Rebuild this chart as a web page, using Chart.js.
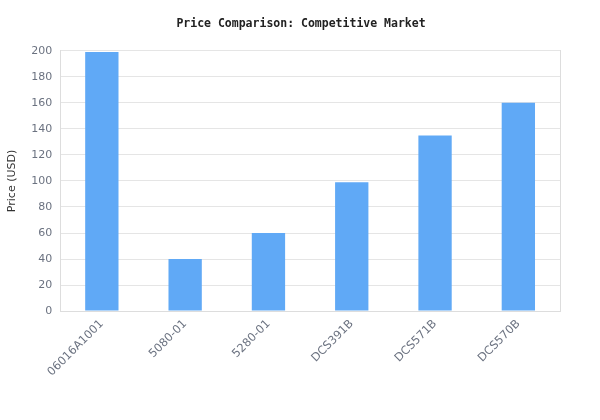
<!DOCTYPE html>
<html>
<head>
<meta charset="utf-8">
<script src="https://cdn.jsdelivr.net/npm/chart.js@4"></script>
<style>
  html, body { margin: 0; padding: 0; background: #fff; }
  #wrap { width: 600px; height: 420px; }
</style>
</head>
<body>
<div id="wrap"><canvas id="prices"></canvas></div>
<script>
var models = ['06016A1001', '5080-01', '5280-01', 'DCS391B', 'DCS571B', 'DCS570B'];
var prices = [199, 40, 60, 99, 135, 160];
var yTicks = [0, 20, 40, 60, 80, 100, 120, 140, 160, 180, 200];

var ctx = document.getElementById('prices').getContext('2d');
var chart = new Chart(ctx, {
    type: 'bar',
    data: {
        labels: models,
        datasets: [{
            label: 'Price (USD)',
            backgroundColor: '#60a9f6',
            borderWidth: 0,
            barPercentage: 0.5,
            categoryPercentage: 0.8,
            data: prices
        }]
    },
    options: {
        responsive: true,
        maintainAspectRatio: false,
        animation: false,
        layout: { padding: { left: 2, right: 0, top: 5, bottom: 35 } },
        plugins: {
            legend: { display: false },
            title: {
                display: true,
                text: 'Price Comparison: Competitive Market',
                color: '#222',
                font: { family: '"DejaVu Sans Mono", monospace', size: 11.5, weight: 'bold' },
                padding: { top: 12, bottom: 20 }
            }
        },
        scales: {
            x: {
                grid: { display: false, drawTicks: false },
                border: { color: '#dddddd' },
                ticks: {
                    color: '#6b7280',
                    font: { family: '"DejaVu Sans", sans-serif', size: 11.5 },
                    maxRotation: 45,
                    minRotation: 45,
                    padding: 6
                }
            },
            y: {
                min: 0,
                max: 200,
                afterBuildTicks: function (axis) {
                    axis.ticks = yTicks.map(function (v) { return { value: v }; });
                },
                grid: { color: '#e5e5e5', drawTicks: false },
                border: { color: '#dddddd' },
                ticks: {
                    color: '#6b7280',
                    font: { family: '"DejaVu Sans", sans-serif', size: 11 },
                    padding: 8
                },
                title: {
                    display: true,
                    text: 'Price (USD)',
                    color: '#333',
                    font: { family: '"DejaVu Sans", sans-serif', size: 11 }
                }
            },
            // empty right axis, only used to keep a 40px margin on the right
            yRight: {
                position: 'right',
                min: 0,
                max: 200,
                grid: { display: false, drawTicks: false },
                border: { display: true, color: '#dddddd' },
                ticks: { display: false },
                afterFit: function (axis) { axis.width = 40; }
            }
        }
    }
});
</script>
</body>
</html>
